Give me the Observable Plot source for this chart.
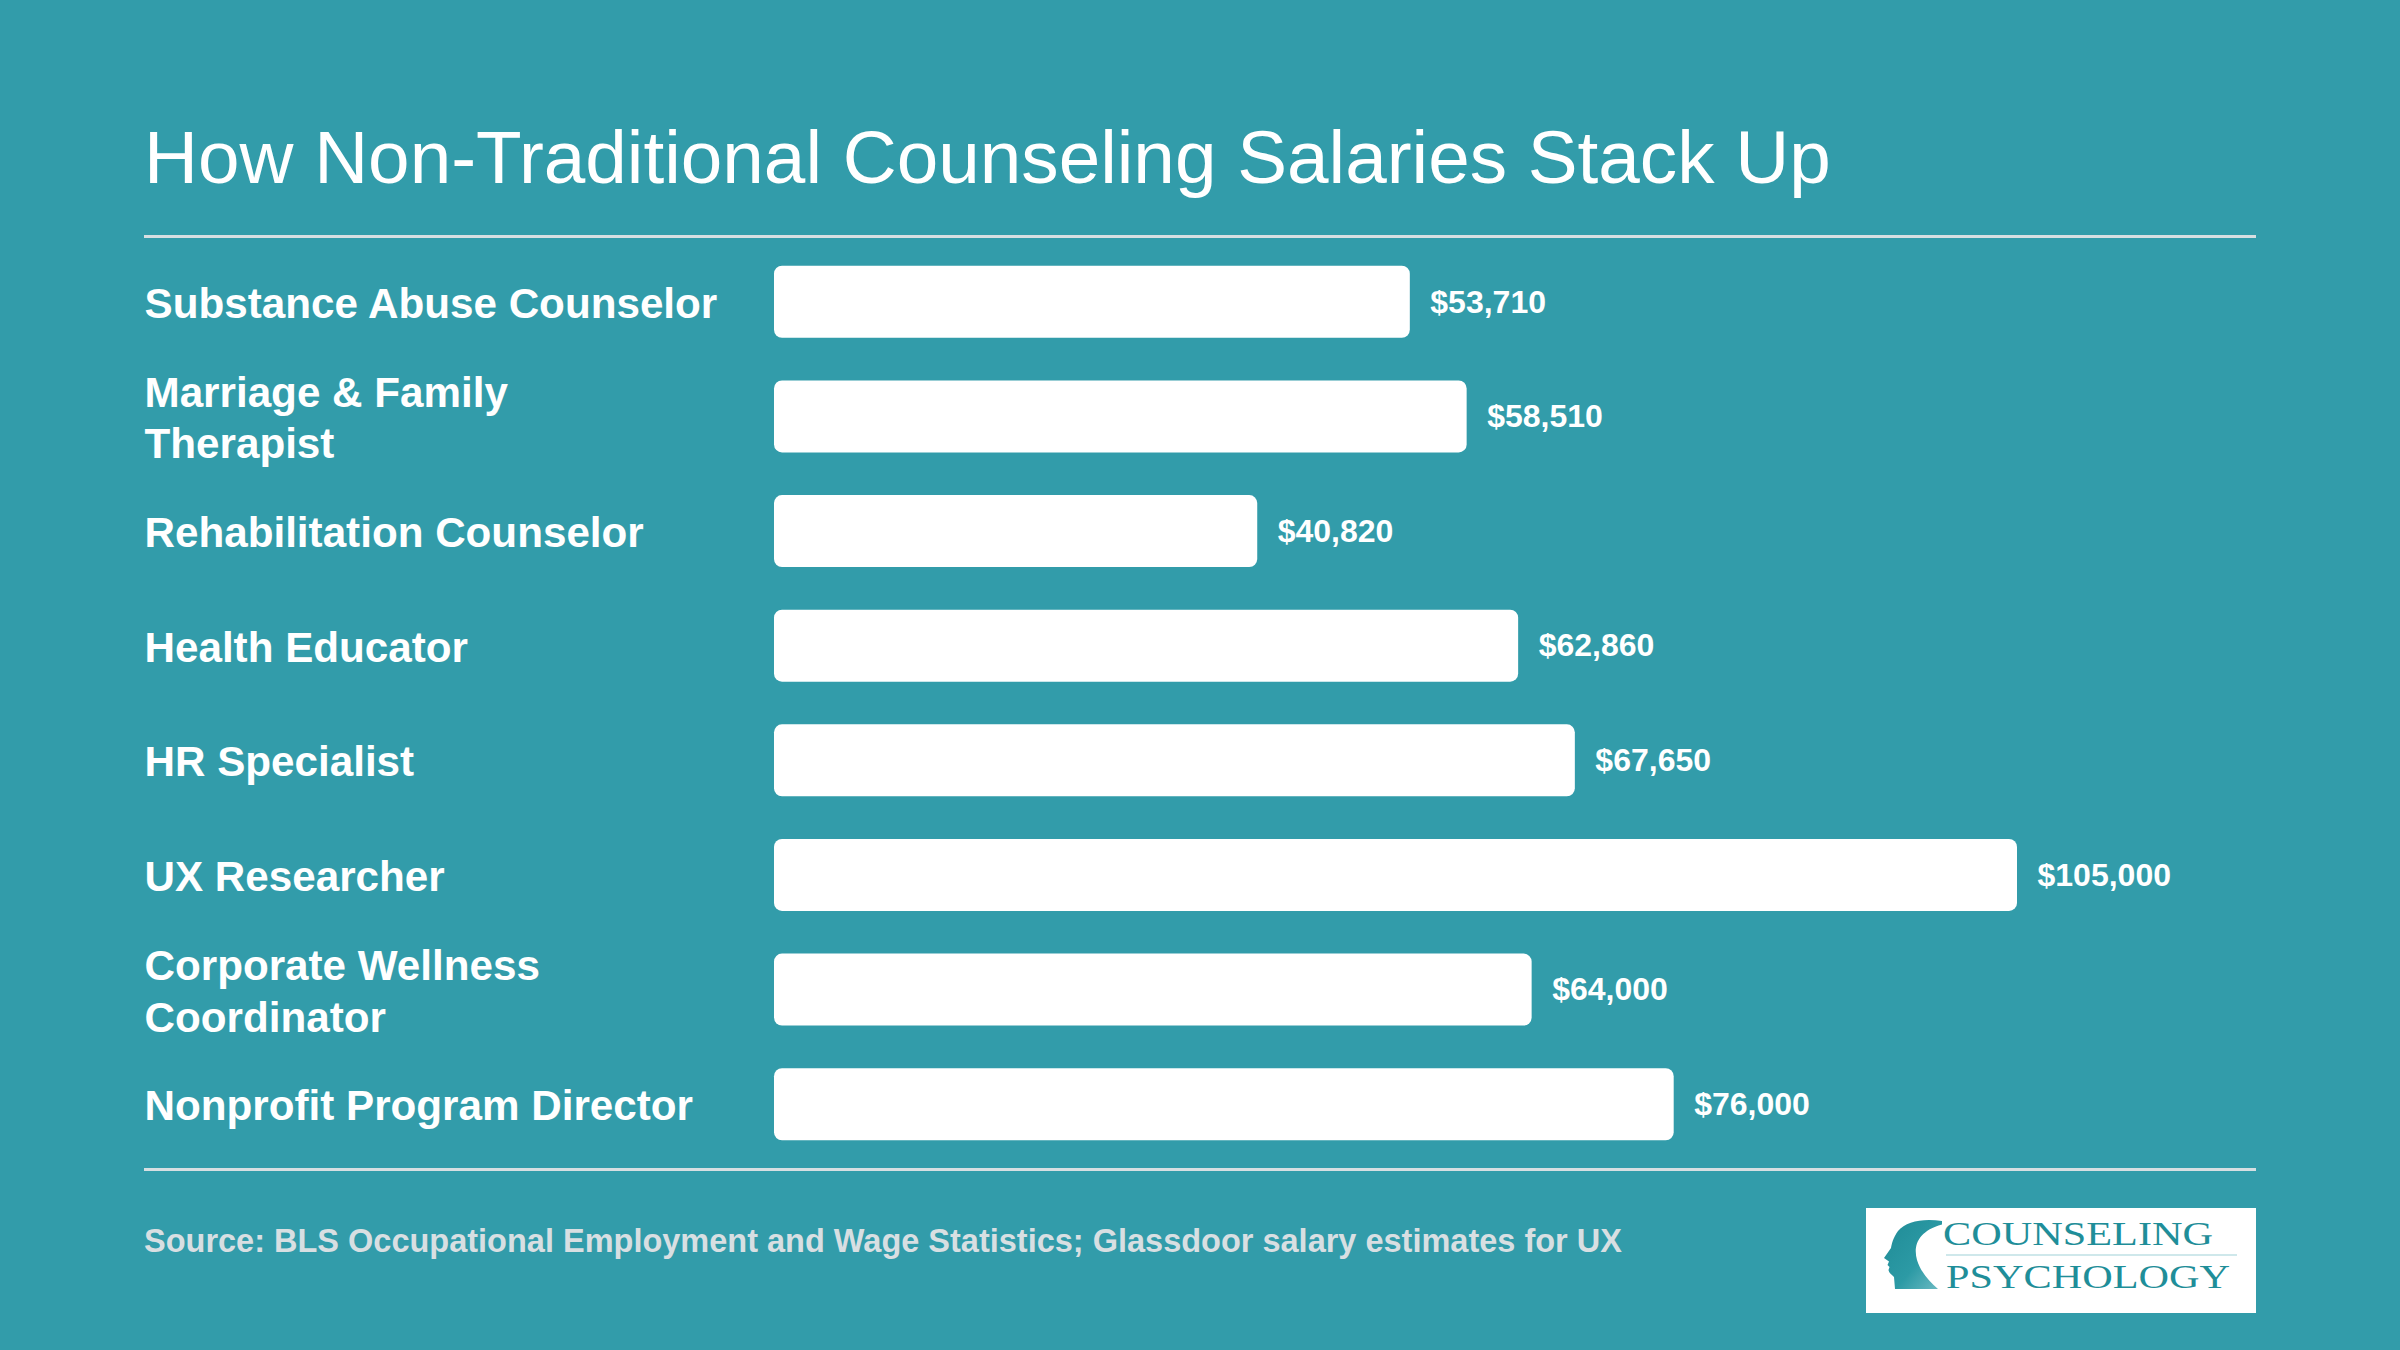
<!DOCTYPE html>
<html>
<head>
<meta charset="utf-8">
<script src="https://cdn.jsdelivr.net/npm/d3@7"></script>
<script src="https://cdn.jsdelivr.net/npm/@observablehq/plot@0.6"></script>
<style>
  html, body { margin: 0; padding: 0; }
  body {
    width: 2400px; height: 1350px; overflow: hidden; position: relative;
    background: #329caa;
    font-family: "Liberation Sans", Arial, Helvetica, sans-serif;
    color: #fff;
  }
  .title {
    position: absolute; left: 144px; top: 120px;
    font-size: 74.7px; line-height: 1; font-weight: 400; white-space: nowrap;
  }
  .rule {
    position: absolute; left: 144px; width: 2112px; height: 3px;
    background: #d6dfe2;
  }
  #chart { position: absolute; left: 0; top: 244px; }
  .source {
    position: absolute; left: 144px; top: 1225px;
    font-size: 32.5px; line-height: 1; font-weight: 700; color: #d8dfe2; white-space: nowrap;
  }
  .logo { position: absolute; left: 1866px; top: 1208px; }
</style>
</head>
<body>
<div class="title">How Non-Traditional Counseling Salaries Stack Up</div>
<div class="rule" style="top:235px"></div>
<div id="chart"></div>
<div class="rule" style="top:1168px"></div>
<div class="source">Source: BLS Occupational Employment and Wage Statistics; Glassdoor salary estimates for UX</div>
<svg class="logo" width="390" height="105" viewBox="0 0 390 105">
  <defs>
    <linearGradient id="headFill" x1="0" y1="0" x2="1" y2="1">
      <stop offset="0" stop-color="#1f8b96"/>
      <stop offset="0.6" stop-color="#2c9aa5"/>
      <stop offset="1" stop-color="#6fbcc4"/>
    </linearGradient>
  </defs>
  <rect width="390" height="105" fill="#fff"/>
  <path fill="url(#headFill)" d="M76,13 C58,10 40,13 32,23 C27,30 26,35 25,40 L18,50 L23,53.5 L21.5,57 L23.5,59 L22.5,62 C23,65 25,66 28,69 L29,81 L72,81 C64,74 55,65 51,52 C47,38 52,23 76,16.5 Z"/>
  <text x="77" y="37" font-family="Liberation Serif, DejaVu Serif, serif" font-size="33" fill="#1f8e99"
        textLength="270" lengthAdjust="spacingAndGlyphs">COUNSELING</text>
  <line x1="80" x2="371" y1="47" y2="47" stroke="#bfe0e4" stroke-width="1.5"/>
  <text x="80" y="80" font-family="Liberation Serif, DejaVu Serif, serif" font-size="33" fill="#1f8e99"
        textLength="284" lengthAdjust="spacingAndGlyphs">PSYCHOLOGY</text>
</svg>

<script>
// Median annual pay by role
const jobs = [
  "Substance Abuse Counselor",
  "Marriage & Family\nTherapist",
  "Rehabilitation Counselor",
  "Health Educator",
  "HR Specialist",
  "UX Researcher",
  "Corporate Wellness\nCoordinator",
  "Nonprofit Program Director"
];
const salaries = [53710, 58510, 40820, 62860, 67650, 105000, 64000, 76000];

const rows = jobs.map((job, i) => ({job, salary: salaries[i]}));
const money = d3.format("$,");

const chart = Plot.plot({
  width: 2400,
  height: 918,
  marginTop: 0,
  marginBottom: 0,
  marginLeft: 774,
  marginRight: 383,
  style: {
    background: "transparent",
    overflow: "visible",
    fontFamily: "'Liberation Sans', Arial, Helvetica, sans-serif"
  },
  x: {domain: [0, d3.max(salaries)], axis: null},
  y: {domain: jobs, paddingInner: 0.372, paddingOuter: 0.19, round: false, axis: null},
  marks: [
    Plot.barX(rows, {x: "salary", y: "job", fill: "#ffffff", rx: 8}),
    Plot.text(rows, {
      x: "salary", y: "job", text: d => money(d.salary),
      textAnchor: "start", dx: 20, fill: "#ffffff",
      fontSize: 32, fontWeight: "bold"
    }),
    Plot.text(rows, {
      y: "job", text: "job", frameAnchor: "left", textAnchor: "start",
      dx: -630, dy: -1, fill: "#ffffff", fontSize: 42.2, fontWeight: "bold",
      lineHeight: 1.23
    })
  ]
});
document.getElementById("chart").appendChild(chart);
</script>
</body>
</html>
